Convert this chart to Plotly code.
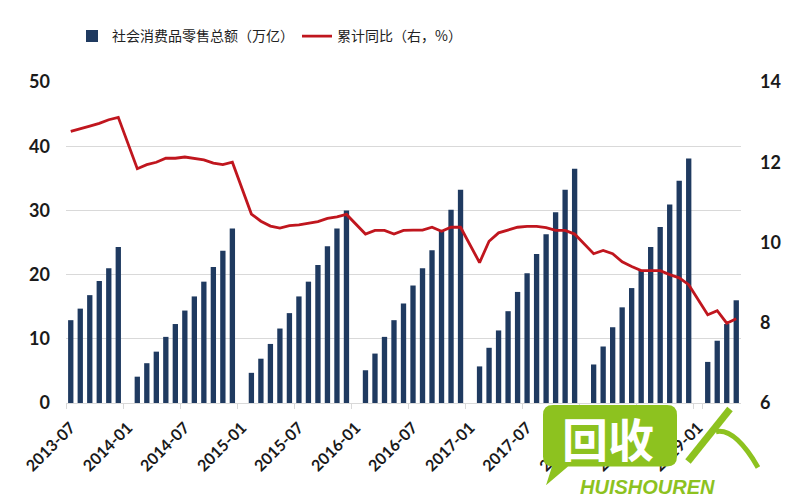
import plotly.graph_objects as go

# ---------------- data ----------------
years = [2013, 2014, 2015, 2016, 2017, 2018, 2019]
first_month = {2013: 7, 2014: 1, 2015: 1, 2016: 1, 2017: 1, 2018: 1, 2019: 1}
last_month = {2013: 12, 2014: 12, 2015: 12, 2016: 12, 2017: 12, 2018: 12, 2019: 5}

# cumulative retail sales (万亿), Feb..Dec (2013: Jul..Dec, 2019: Feb..May)
sales_2013 = [12.9, 14.7, 16.8, 19.0, 21.0, 24.3]
sales_2014 = [4.1, 6.2, 8.0, 10.3, 12.3, 14.4, 16.6, 18.9, 21.2, 23.7, 27.2]
sales_2015 = [4.7, 6.9, 9.2, 11.6, 14.0, 16.6, 18.9, 21.5, 24.4, 27.2, 30.0]
sales_2016 = [5.1, 7.7, 10.3, 12.9, 15.5, 18.3, 21.0, 23.8, 26.9, 30.1, 33.2]
sales_2017 = [5.7, 8.6, 11.3, 14.3, 17.3, 20.2, 23.2, 26.3, 29.7, 33.2, 36.5]
sales_2018 = [6.0, 8.8, 11.8, 14.9, 17.9, 20.7, 24.3, 27.4, 30.9, 34.6, 38.1]
sales_2019 = [6.4, 9.7, 12.3, 16.0]

# cumulative YoY growth (%), right axis
growth_2013 = [12.77, 12.83, 12.9, 12.97, 13.06, 13.12]
growth_2014 = [11.84, 11.94, 12.0, 12.1, 12.1, 12.13, 12.1, 12.06, 11.98, 11.94, 12.0]
growth_2015 = [10.71, 10.53, 10.41, 10.36, 10.42, 10.44, 10.48, 10.52, 10.6, 10.64, 10.7]
growth_2016 = [10.21, 10.3, 10.3, 10.21, 10.3, 10.31, 10.31, 10.38, 10.28, 10.38, 10.38]
growth_2017 = [9.5, 10.03, 10.24, 10.31, 10.38, 10.4, 10.4, 10.37, 10.3, 10.3, 10.21]
growth_2018 = [9.72, 9.8, 9.72, 9.52, 9.4, 9.3, 9.3, 9.3, 9.2, 9.12, 8.95]
growth_2019 = [8.2, 8.3, 7.99, 8.1]

tick_labels = ["2013-07", "2014-01", "2014-07", "2015-01", "2015-07", "2016-01",
               "2016-07", "2017-01", "2017-07", "2018-01", "2018-07", "2019-01"]

sales_by_year = [sales_2013, sales_2014, sales_2015, sales_2016, sales_2017, sales_2018, sales_2019]
growth_by_year = [growth_2013, growth_2014, growth_2015, growth_2016, growth_2017, growth_2018, growth_2019]

# all months on the category axis (January kept as an empty slot)
all_months = []
data_months, sales, growth = [], [], []
for y, s_list, g_list in zip(years, sales_by_year, growth_by_year):
    months = list(range(first_month[y], last_month[y] + 1))
    all_months += [f"{y}-{m:02d}" for m in months]
    data_m = [m for m in months if m != 1]
    data_months += [f"{y}-{m:02d}" for m in data_m]
    sales += s_list
    growth += g_list

BAR = "#1F3A60"
RED = "#C0161E"
GRID = "#D9D9D9"

fig = go.Figure()
fig.add_trace(go.Bar(
    x=data_months, y=sales, name="社会消费品零售总额（万亿）",
    marker=dict(color=BAR, line=dict(width=0)), yaxis="y",
))
fig.add_trace(go.Scatter(
    x=data_months, y=growth, name="累计同比（右，%）", mode="lines",
    line=dict(color=RED, width=2.8), yaxis="y2",
))

# page is offset by the 8px body margin; figure is 792x492 so it fills the window
OFF = 8
W, H = 800 - OFF, 500 - OFF
L, T = 66 - OFF, 79 - OFF
PW, PH = 675, 324
R = W - L - PW
B = H - T - PH

def px(x):  # page pixel -> paper
    return (x - OFF - L) / PW
def py(y):
    return (T + PH - (y - OFF)) / PH

tickfont = dict(family="Lato, Open Sans, sans-serif", size=18, color="#1a1a1a", weight="bold")

fig.update_layout(
    width=W, height=H,
    margin=dict(l=L, r=R, t=T, b=B),
    paper_bgcolor="white", plot_bgcolor="white",
    bargap=0.44,
    showlegend=True,
    legend=dict(orientation="h", x=px(72), y=py(33), xanchor="left", yanchor="middle",
                font=dict(family="Noto Sans CJK SC", size=14, color="#222222"),
                itemwidth=30, entrywidth=180, entrywidthmode="pixels",
                bgcolor="rgba(0,0,0,0)"),
    xaxis=dict(
        type="category", categoryorder="array", categoryarray=all_months,
        range=[-0.5, len(all_months) - 0.5],
        tickmode="array", tickvals=tick_labels, ticktext=tick_labels,
        tickangle=-45, tickson="boundaries", ticks="outside", ticklen=5,
        tickcolor=GRID, showgrid=False, showline=True, linecolor=GRID, linewidth=1,
        tickfont=dict(family="Lato, Open Sans, sans-serif", size=16, color="#1a1a1a", weight="bold"),
        ticklabelstandoff=8,
    ),
    yaxis=dict(
        range=[0, 50], dtick=10, tick0=0, showgrid=True, gridcolor=GRID, gridwidth=1,
        zeroline=False, showline=False, ticks="", tickfont=tickfont, ticklabelstandoff=15,
    ),
    yaxis2=dict(
        range=[6, 14], dtick=2, tick0=6, overlaying="y", side="right", showgrid=False,
        zeroline=False, showline=False, ticks="", tickfont=tickfont, ticklabelstandoff=18,
    ),
)

shapes = [
    # frame line (right edge)
    dict(type="line", xref="paper", yref="paper", x0=px(796), x1=px(796), y0=py(8), y1=py(500),
         line=dict(color="#5a5a5a", width=2)),
]

# watermark (green speech-bubble logo)
GREEN = "#8DC21F"
x0, x1, y0, y1, r = 543, 677, 405, 467, 10
pts = (f"M {px(x0 + r)},{py(y0)} L {px(x1 - r)},{py(y0)} Q {px(x1)},{py(y0)} {px(x1)},{py(y0 + r)} "
       f"L {px(x1)},{py(y1 - r)} Q {px(x1)},{py(y1)} {px(x1 - r)},{py(y1)} "
       f"L {px(568)},{py(y1)} L {px(546)},{py(486)} L {px(552)},{py(y1)} "
       f"L {px(x0 + r)},{py(y1)} Q {px(x0)},{py(y1)} {px(x0)},{py(y1 - r)} "
       f"L {px(x0)},{py(y0 + r)} Q {px(x0)},{py(y0)} {px(x0 + r)},{py(y0)} Z")
shapes.append(dict(type="path", xref="paper", yref="paper", path=pts,
                   fillcolor=GREEN, line=dict(width=0), layer="above"))
shapes.append(dict(type="path", xref="paper", yref="paper",
                   path=f"M {px(688)},{py(462)} L {px(730)},{py(409)}",
                   line=dict(color=GREEN, width=7), layer="above"))
shapes.append(dict(type="path", xref="paper", yref="paper",
                   path=f"M {px(716)},{py(432)} Q {px(735)},{py(428)} {px(758)},{py(468)}",
                   line=dict(color=GREEN, width=5), layer="above"))
fig.update_layout(shapes=shapes)

fig.add_annotation(x=px(608), y=py(437), xref="paper", yref="paper", text="<b>回收</b>",
                   xanchor="center", yanchor="middle",
                   showarrow=False, font=dict(family="Noto Sans CJK SC", size=46, color="white"))
fig.add_annotation(x=px(647), y=py(488), xref="paper", yref="paper", text="<b><i>HUISHOUREN</i></b>",
                   xanchor="center", yanchor="middle",
                   showarrow=False, font=dict(family="Liberation Sans", size=20, color=GREEN))

fig.write_html("out.html")
